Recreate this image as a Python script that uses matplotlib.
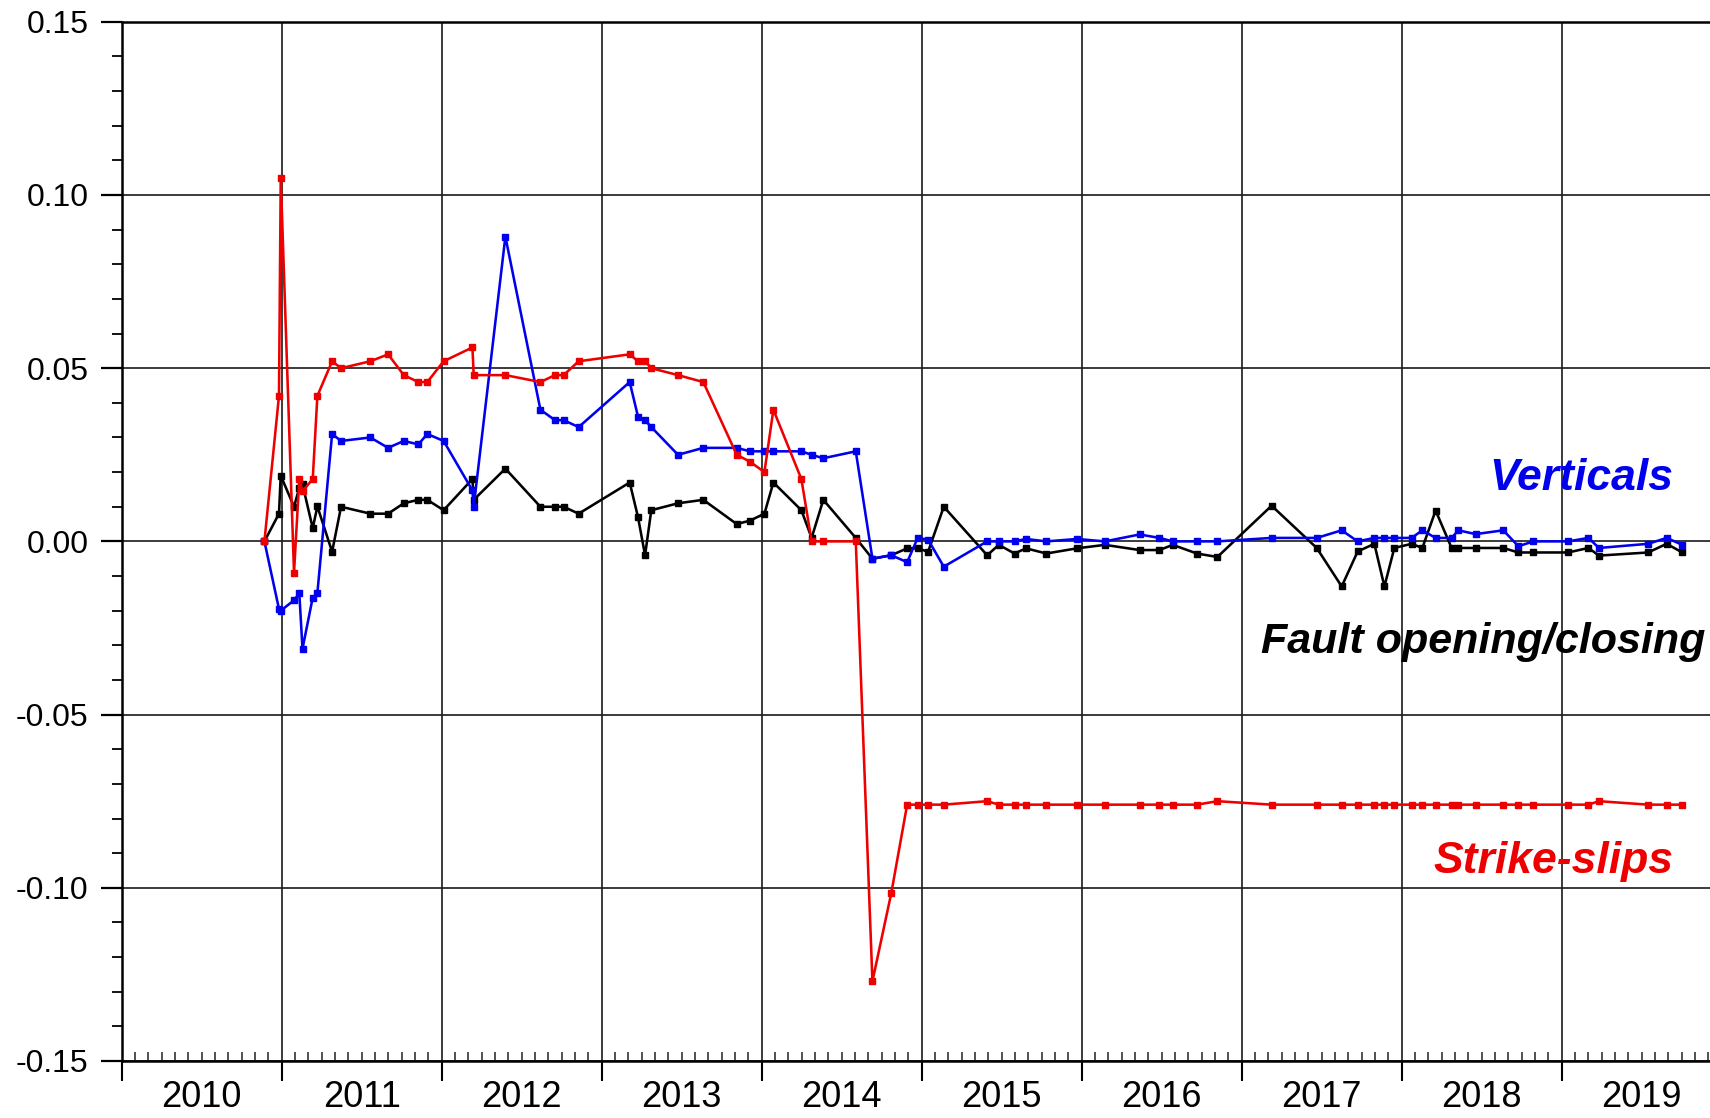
import matplotlib
matplotlib.use('Agg')
import matplotlib.pyplot as plt
from matplotlib.ticker import FixedLocator, FuncFormatter
from matplotlib import font_manager

# ---- data (decimal years) ----
dates = [2010.892, 2010.983, 2010.994, 2011.077, 2011.110, 2011.130, 2011.194, 2011.223,
         2011.315, 2011.371, 2011.554, 2011.665, 2011.763, 2011.854, 2011.910, 2012.012,
         2012.192, 2012.200, 2012.398, 2012.617, 2012.708, 2012.762, 2012.856, 2013.175,
         2013.227, 2013.271, 2013.310, 2013.477, 2013.635, 2013.844, 2013.927, 2014.017,
         2014.073, 2014.248, 2014.312, 2014.385, 2014.588, 2014.692, 2014.810, 2014.909,
         2014.975, 2015.040, 2015.138, 2015.409, 2015.482, 2015.580, 2015.652, 2015.779,
         2015.971, 2016.145, 2016.362, 2016.486, 2016.569, 2016.720, 2016.848, 2017.187,
         2017.469, 2017.625, 2017.725, 2017.829, 2017.892, 2017.954, 2018.062, 2018.129,
         2018.212, 2018.312, 2018.354, 2018.462, 2018.635, 2018.729, 2018.823, 2019.040,
         2019.167, 2019.233, 2019.540, 2019.656, 2019.754]

strike_slips = [0.000, 0.042, 0.105, -0.009, 0.018, 0.0145, 0.018, 0.042,
                0.052, 0.050, 0.052, 0.054, 0.048, 0.046, 0.046, 0.052,
                0.056, 0.048, 0.048, 0.046, 0.048, 0.048, 0.052, 0.054,
                0.052, 0.052, 0.050, 0.048, 0.046, 0.025, 0.023, 0.020,
                0.038, 0.018, 0.000, 0.000, 0.000, -0.127, -0.1015, -0.076,
                -0.076, -0.076, -0.076, -0.075, -0.076, -0.076, -0.076, -0.076,
                -0.076, -0.076, -0.076, -0.076, -0.076, -0.076, -0.075, -0.076,
                -0.076, -0.076, -0.076, -0.076, -0.076, -0.076, -0.076, -0.076,
                -0.076, -0.076, -0.076, -0.076, -0.076, -0.076, -0.076, -0.076,
                -0.076, -0.075, -0.076, -0.076, -0.076]

verticals = [0.000, -0.0195, -0.020, -0.017, -0.015, -0.031, -0.0162, -0.0149,
             0.031, 0.029, 0.030, 0.027, 0.029, 0.028, 0.031, 0.029,
             0.0147, 0.010, 0.088, 0.038, 0.035, 0.035, 0.033, 0.046,
             0.036, 0.035, 0.033, 0.025, 0.027, 0.027, 0.026, 0.026,
             0.026, 0.026, 0.025, 0.024, 0.026, -0.005, -0.004, -0.006,
             0.001, 0.0005, -0.0073, 0.000, 0.000, 0.000, 0.0007, 0.000,
             0.0007, 0.000, 0.002, 0.001, 0.000, 0.000, 0.000, 0.001,
             0.001, 0.0032, 0.000, 0.001, 0.001, 0.001, 0.001, 0.0032,
             0.001, 0.001, 0.0032, 0.0021, 0.0032, -0.0014, 0.000, 0.000,
             0.001, -0.0019, -0.0007, 0.001, -0.001]

opening = [0.000, 0.008, 0.019, 0.010, 0.0155, 0.0165, 0.0038, 0.0101,
           -0.003, 0.010, 0.008, 0.008, 0.011, 0.012, 0.012, 0.009,
           0.018, 0.012, 0.021, 0.010, 0.010, 0.010, 0.008, 0.017,
           0.007, -0.004, 0.009, 0.011, 0.012, 0.005, 0.006, 0.008,
           0.017, 0.009, 0.001, 0.012, 0.001, -0.005, -0.004, -0.002,
           -0.002, -0.003, 0.010, -0.004, -0.001, -0.0035, -0.002, -0.0035,
           -0.002, -0.001, -0.0025, -0.0025, -0.001, -0.0035, -0.0045, 0.0103,
           -0.0019, -0.013, -0.0029, -0.0007, -0.013, -0.0019, -0.0007, -0.0019,
           0.0089, -0.0019, -0.0019, -0.0019, -0.0019, -0.0032, -0.0032, -0.0032,
           -0.0019, -0.0041, -0.0032, -0.0007, -0.0032]

years = list(range(2010, 2020))
year_labels = [str(y) for y in years]
y_ticks = [-0.15, -0.10, -0.05, 0.00, 0.05, 0.10, 0.15]
y_tick_labels = ['-0.15', '-0.10', '-0.05', '0.00', '0.05', '0.10', '0.15']


def has_font(name):
    try:
        font_manager.findfont(font_manager.FontProperties(family=name),
                              fallback_to_default=False)
        return True
    except Exception:
        return False


base_font = 'Liberation Sans' if has_font('Liberation Sans') else 'DejaVu Sans'
narrow_font = 'Liberation Sans Narrow' if has_font('Liberation Sans Narrow') else base_font
year_size = 30 if narrow_font == 'Liberation Sans Narrow' else 26

plt.rcParams['font.family'] = [base_font, 'DejaVu Sans']

fig = plt.figure(figsize=(17.1, 11.18), dpi=100)
ax = fig.add_axes([121.7 / 1710, 0.051, 1600 / 1710, 0.9295])

ax.set_xlim(2010, 2020)
ax.set_ylim(-0.15, 0.15)

# grid
ax.set_xticks(years + [2020])
ax.xaxis.grid(True, which='major', color='#1a1a1a', lw=1.2)
ax.set_yticks(y_ticks)
ax.set_yticklabels(y_tick_labels)
ax.yaxis.grid(True, which='major', color='#1a1a1a', lw=1.2)
ax.set_axisbelow(True)

# series
line_kw = dict(lw=1.85, marker='s', ms=4.6)
ax.plot(dates, opening, color='black', mec='black', mfc='black', zorder=3, **line_kw)
ax.plot(dates, verticals, color='#0000ee', mec='#0000ee', mfc='#0000ee', zorder=4, **line_kw)
ax.plot(dates, strike_slips, color='#ee0000', mec='#ee0000', mfc='#ee0000', zorder=5, **line_kw)

# x ticks: year boundaries (major, out), months (minor, in) with year labels at mid-year
ax.xaxis.set_major_formatter(FuncFormatter(lambda x, pos: ''))
month_pos = [2010 + k / 12 for k in range(121)]
ax.xaxis.set_minor_locator(FixedLocator(month_pos))
label_map = {int(y) * 12 + 6: lab for y, lab in zip(years, year_labels)}


def year_fmt(x, pos):
    k = int(round(x * 12))
    return label_map.get(k, '')


ax.xaxis.set_minor_formatter(FuncFormatter(year_fmt))
ax.tick_params(axis='x', which='major', direction='out', length=14.5, width=1.5,
               color='black', labelbottom=True)
ax.tick_params(axis='x', which='minor', direction='in', length=6.5, width=1.1,
               color='#222222', pad=14)
for lab in ax.xaxis.get_minorticklabels():
    lab.set_fontfamily([narrow_font, 'DejaVu Sans'])
    lab.set_fontsize(year_size)

# y ticks
ax.yaxis.set_minor_locator(FixedLocator([round(-0.15 + 0.01 * i, 2) for i in range(31)]))
ax.tick_params(axis='y', which='major', direction='out', length=15, width=1.6,
               labelsize=23, pad=9)
ax.tick_params(axis='y', which='minor', direction='out', length=7.5, width=1.3)

for side in ['left', 'bottom', 'top']:
    ax.spines[side].set_linewidth(1.8)
ax.spines['right'].set_visible(False)

# annotations
ax.text(2019.70, 0.0148, 'Verticals', color='#0000ee', fontsize=32,
        fontweight='bold', fontstyle='italic', ha='right', va='baseline', zorder=6)
ax.text(2019.90, -0.0322, 'Fault opening/closing', color='black', fontsize=31,
        fontweight='bold', fontstyle='italic', ha='right', va='baseline', zorder=6)
ax.text(2019.70, -0.0957, 'Strike-slips', color='#ee0000', fontsize=32,
        fontweight='bold', fontstyle='italic', ha='right', va='baseline', zorder=6)

fig.savefig('out.png', dpi=100)
